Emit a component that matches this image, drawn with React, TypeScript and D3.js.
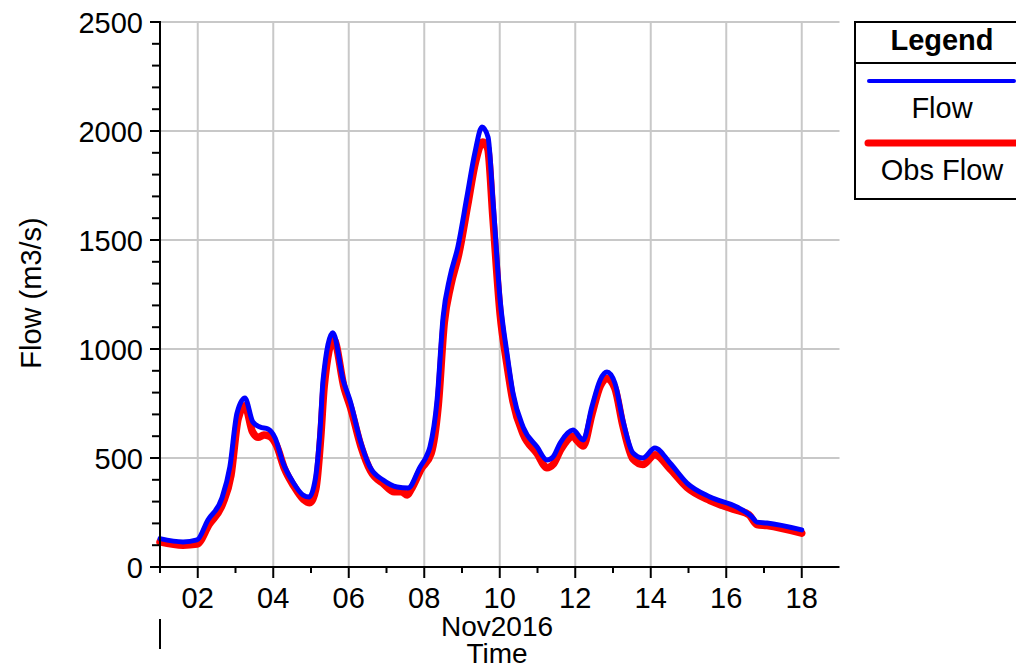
import { useEffect, useRef } from "react";
import * as d3 from "d3";

// Flow (simulated) — [day of Nov 2016, m3/s]
const flowDays = [
  1.0, 1.61, 1.98, 2.27, 2.64, 2.85, 3.04, 3.25, 3.46, 3.65, 3.86, 4.05, 4.26, 4.52, 4.79, 4.95,
  5.11, 5.24, 5.32, 5.58, 5.85, 6.03, 6.3, 6.56, 6.91, 7.28, 7.57, 7.89, 8.05, 8.15, 8.34, 8.5,
  8.68, 8.89, 9.13, 9.34, 9.53, 9.69, 9.82, 10.01, 10.19, 10.35, 10.62, 10.99, 11.25, 11.41,
  11.6, 11.94, 12.21, 12.44, 12.66, 12.84, 13.05, 13.26, 13.53, 13.79, 14.11, 14.51, 14.96,
  15.57, 16.28, 16.68, 16.81, 17.08, 18.0,
];
const flowValues = [
  130, 115, 124, 216, 316, 459, 706, 775, 665, 642, 633, 592, 477, 390, 330, 321,
  399, 628, 858, 1075, 858, 766, 583, 459, 399, 367, 362, 459, 505, 550, 766, 1147,
  1330, 1468, 1697, 1899, 2018, 1972, 1683, 1225, 982, 798, 642, 550, 491, 505,
  569, 628, 583, 734, 858, 894, 844, 674, 523, 500, 546, 477, 385,
  321, 275, 230, 206, 202, 170,
];

// Obs Flow — [day of Nov 2016, m3/s]
const obsDays = [
  1.0, 1.61, 1.98, 2.3, 2.66, 2.88, 3.07, 3.25, 3.45, 3.6, 3.75, 3.9, 4.08, 4.3, 4.55, 4.8, 4.97,
  5.13, 5.26, 5.35, 5.6, 5.88, 6.05, 6.32, 6.58, 6.93, 7.2, 7.4, 7.55, 7.65, 7.92, 8.18, 8.37,
  8.53, 8.7, 8.92, 9.15, 9.36, 9.55, 9.68, 9.82, 10.01, 10.19, 10.35, 10.62, 10.99, 11.25,
  11.41, 11.62, 11.94, 12.05, 12.21, 12.44, 12.66, 12.84, 13.05, 13.26, 13.53, 13.79, 14.11,
  14.51, 14.96, 15.57, 16.28, 16.6, 16.81, 17.08, 18.0,
];
const obsValues = [
  115, 100, 105, 195, 290, 420, 680, 740, 620, 595, 605, 600, 560, 450, 370, 310, 295,
  360, 600, 830, 1045, 820, 730, 555, 440, 380, 345, 345, 330, 355, 450, 520, 740,
  1120, 1290, 1440, 1660, 1860, 1950, 1920, 1600, 1160, 930, 760, 610, 520, 455,
  470, 540, 600, 580, 555, 700, 830, 865, 820, 650, 495, 470, 515,
  450, 365, 305, 260, 240, 195, 190, 155,
];

const yTicks = [0, 500, 1000, 1500, 2000, 2500];
const xTickDays = [2, 4, 6, 8, 10, 12, 14, 16, 18];
const xTickLabels = ["02", "04", "06", "08", "10", "12", "14", "16", "18"];
const seriesNames = ["Flow", "Obs Flow"];
const seriesColors = ["#0000ff", "#ff0000"];

export default function App() {
  const ref = useRef<SVGSVGElement>(null);

  useEffect(() => {
    if (!ref.current) return;
    const svg = d3.select(ref.current);
    svg.selectAll("*").remove();

    const W = 1016;
    const H = 671;
    const font = "'Liberation Sans', Arial, sans-serif";
    svg.attr("width", W).attr("height", H).attr("font-family", font);

    svg.append("rect").attr("width", W).attr("height", H).attr("fill", "#fff");

    const x = d3.scaleLinear().domain([1, 19]).range([160, 839.5]);
    const y = d3.scaleLinear().domain([0, 2500]).range([567, 22]);

    // grid
    const grid = svg.append("g").attr("stroke", "#c8c8c8").attr("stroke-width", 2);
    yTicks.filter((t) => t > 0).forEach((t) => {
      grid.append("line")
        .attr("x1", x(1)).attr("x2", x(19))
        .attr("y1", y(t)).attr("y2", y(t));
    });
    xTickDays.forEach((d) => {
      grid.append("line")
        .attr("x1", x(d)).attr("x2", x(d))
        .attr("y1", y(0)).attr("y2", y(2500));
    });

    // series
    const line = d3.line<[number, number]>()
      .x((d) => x(d[0]))
      .y((d) => y(d[1]))
      .curve(d3.curveMonotoneX);
    const obs = obsDays.map((d, i) => [d, obsValues[i]] as [number, number]);
    const flow = flowDays.map((d, i) => [d, flowValues[i]] as [number, number]);

    svg.append("path")
      .attr("d", line(obs))
      .attr("fill", "none")
      .attr("stroke", seriesColors[1])
      .attr("stroke-width", 7.5)
      .attr("stroke-linejoin", "round")
      .attr("stroke-linecap", "round");
    svg.append("path")
      .attr("d", line(flow))
      .attr("fill", "none")
      .attr("stroke", seriesColors[0])
      .attr("stroke-width", 5)
      .attr("stroke-linejoin", "round")
      .attr("stroke-linecap", "round");

    // axes
    const ax = svg.append("g").attr("stroke", "#000").attr("stroke-width", 2);
    ax.append("line").attr("x1", x(1)).attr("x2", x(1)).attr("y1", y(2500) - 1).attr("y2", y(0) + 1);
    ax.append("line").attr("x1", x(1) - 10).attr("x2", x(19)).attr("y1", y(0)).attr("y2", y(0));

    d3.range(0, 2501, 100).forEach((v) => {
      const major = v % 500 === 0;
      ax.append("line")
        .attr("x1", x(1) - (major ? 10 : 8)).attr("x2", x(1))
        .attr("y1", y(v)).attr("y2", y(v));
    });
    d3.range(1, 19).forEach((d) => {
      const major = d % 2 === 0;
      ax.append("line")
        .attr("x1", x(d)).attr("x2", x(d))
        .attr("y1", y(0)).attr("y2", y(0) + (major ? 11 : 6));
    });
    // month boundary marker
    ax.append("line").attr("x1", x(1)).attr("x2", x(1)).attr("y1", 619).attr("y2", 649);

    yTicks.forEach((t) => {
      svg.append("text")
        .attr("x", 143).attr("y", y(t) + 11)
        .attr("text-anchor", "end")
        .attr("font-size", 29)
        .text(t);
    });
    xTickDays.forEach((d, i) => {
      svg.append("text")
        .attr("x", x(d)).attr("y", 608)
        .attr("text-anchor", "middle")
        .attr("font-size", 29)
        .text(xTickLabels[i]);
    });
    svg.append("text")
      .attr("x", 497).attr("y", 636)
      .attr("text-anchor", "middle").attr("font-size", 28)
      .text("Nov2016");
    svg.append("text")
      .attr("x", 497).attr("y", 663)
      .attr("text-anchor", "middle").attr("font-size", 28)
      .text("Time");
    svg.append("text")
      .attr("transform", "translate(41,293) rotate(-90)")
      .attr("text-anchor", "middle").attr("font-size", 29)
      .text("Flow (m3/s)");

    // legend
    const lg = svg.append("g");
    lg.append("rect")
      .attr("x", 855).attr("y", 22).attr("width", 180).attr("height", 177)
      .attr("fill", "#fff").attr("stroke", "#000").attr("stroke-width", 2);
    lg.append("line")
      .attr("x1", 855).attr("x2", 1035).attr("y1", 63).attr("y2", 63)
      .attr("stroke", "#000").attr("stroke-width", 2);
    lg.append("text")
      .attr("x", 942).attr("y", 50)
      .attr("text-anchor", "middle").attr("font-size", 29).attr("font-weight", "bold")
      .text("Legend");
    seriesNames.forEach((name, i) => {
      const top = 81 + i * 62;
      lg.append("line")
        .attr("x1", i === 0 ? 869 : 868).attr("x2", 1014 + i * 4)
        .attr("y1", top).attr("y2", top)
        .attr("stroke", seriesColors[i])
        .attr("stroke-width", i === 0 ? 4 : 7)
        .attr("stroke-linecap", "round");
      lg.append("text")
        .attr("x", 942).attr("y", top + 37)
        .attr("text-anchor", "middle").attr("font-size", 29)
        .text(name);
    });
  }, []);

  return <svg ref={ref} style={{ position: "absolute", left: 0, top: 0, display: "block" }} />;
}
